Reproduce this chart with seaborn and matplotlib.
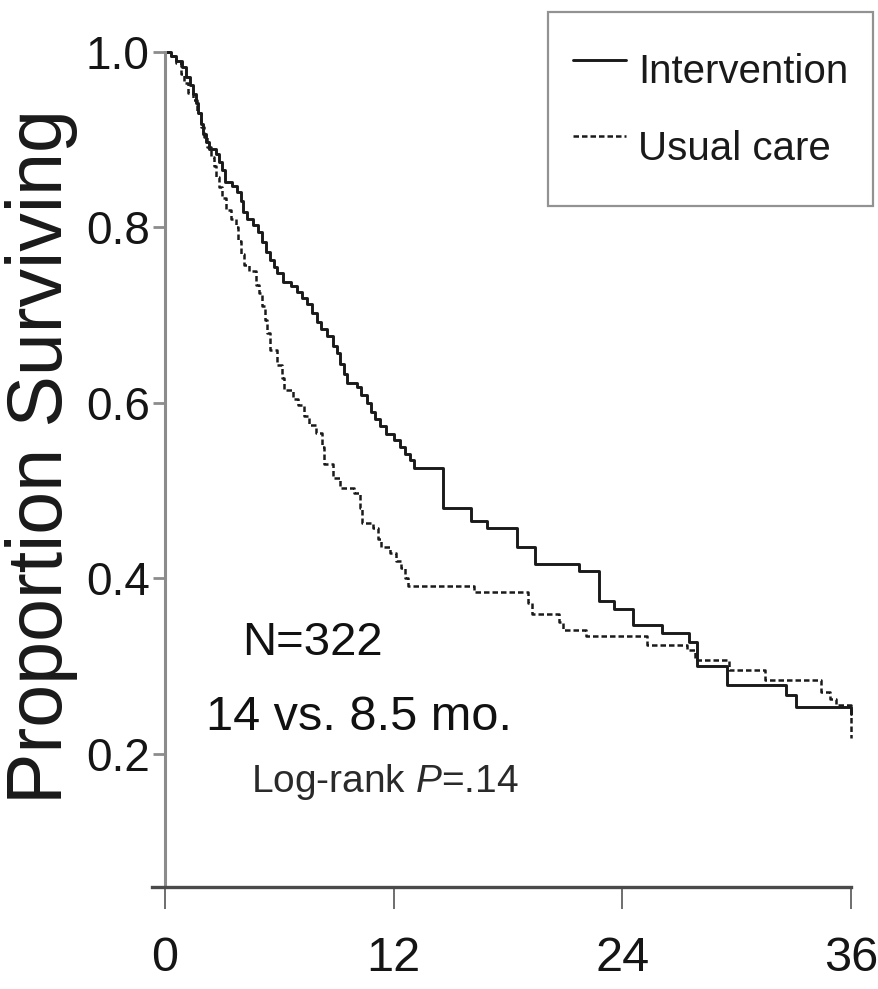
import numpy as np
import pandas as pd
import matplotlib
matplotlib.use("Agg")
import matplotlib.pyplot as plt
import seaborn as sns

# ---------------- data ----------------
series_labels = ["Intervention", "Usual care"]

int_time = [0.0, 0.3, 0.6, 0.9, 1.1, 1.3, 1.45, 1.6, 1.75, 1.9, 2.0, 2.15, 2.3,
            2.65, 2.85, 3.0, 3.15, 3.5, 3.8, 4.0, 4.1, 4.3, 4.6, 4.9, 5.1, 5.3,
            5.5, 5.7, 5.9, 6.2, 6.6, 6.9, 7.2, 7.45, 7.7, 7.95, 8.2, 8.5, 8.8,
            9.0, 9.2, 9.4, 9.55, 10.1, 10.3, 10.6, 10.8, 11.0, 11.3, 11.6, 12.0,
            12.35, 12.6, 12.85, 13.05, 14.6, 16.05, 16.9, 18.45, 19.4, 21.7,
            22.8, 23.55, 24.55, 26.1, 27.5, 27.9, 29.5, 32.6, 33.1, 36.0]
int_surv = [1.000, 0.995, 0.990, 0.983, 0.972, 0.962, 0.952, 0.942, 0.930, 0.918,
            0.907, 0.897, 0.890, 0.884, 0.875, 0.865, 0.852, 0.847, 0.840, 0.830,
            0.818, 0.810, 0.803, 0.795, 0.783, 0.772, 0.763, 0.755, 0.748, 0.738,
            0.733, 0.727, 0.720, 0.713, 0.703, 0.692, 0.684, 0.676, 0.665, 0.657,
            0.645, 0.633, 0.623, 0.618, 0.609, 0.600, 0.590, 0.582, 0.574, 0.565,
            0.558, 0.550, 0.542, 0.535, 0.526, 0.480, 0.466, 0.458, 0.436, 0.417,
            0.409, 0.374, 0.365, 0.347, 0.338, 0.328, 0.300, 0.279, 0.267, 0.254,
            0.246]

uc_time = [0.0, 0.3, 0.6, 0.85, 1.0, 1.2, 1.45, 1.7, 1.9, 2.05, 2.2, 2.4, 2.55,
           2.7, 2.85, 3.0, 3.2, 3.45, 3.7, 3.85, 4.0, 4.15, 4.4, 4.75, 4.95, 5.1,
           5.25, 5.35, 5.5, 5.9, 6.15, 6.25, 6.7, 7.0, 7.3, 7.55, 7.9, 8.25, 8.35,
           8.8, 9.2, 9.9, 10.25, 10.35, 10.9, 11.2, 11.35, 11.8, 12.1, 12.4, 12.6,
           12.75, 16.2, 19.05, 19.25, 20.65, 20.9, 22.1, 25.3, 27.4, 27.8, 29.6,
           31.5, 34.45, 34.9, 35.2, 36.0, 36.0]
uc_surv = [1.000, 0.995, 0.988, 0.975, 0.965, 0.953, 0.945, 0.930, 0.915, 0.903,
           0.892, 0.880, 0.870, 0.858, 0.846, 0.834, 0.820, 0.810, 0.800, 0.785,
           0.770, 0.757, 0.750, 0.735, 0.725, 0.710, 0.695, 0.680, 0.660, 0.643,
           0.628, 0.615, 0.605, 0.598, 0.585, 0.575, 0.566, 0.550, 0.530, 0.515,
           0.503, 0.497, 0.480, 0.463, 0.458, 0.445, 0.436, 0.429, 0.420, 0.412,
           0.400, 0.391, 0.385, 0.372, 0.360, 0.350, 0.341, 0.334, 0.324, 0.318,
           0.307, 0.296, 0.284, 0.271, 0.263, 0.256, 0.256, 0.218]

x_ticks = [0, 12, 24, 36]
x_tick_labels = ["0", "12", "24", "36"]
y_ticks = [0.2, 0.4, 0.6, 0.8, 1.0]
y_tick_labels = ["0.2", "0.4", "0.6", "0.8", "1.0"]
y_label = "Proportion Surviving"
notes = ["N=322", "14 vs. 8.5 mo.", "Log-rank $P$=.14"]

# ---------------- style ----------------
sns.set_theme(style="white")
FONT = ["Liberation Sans", "DejaVu Sans"]
plt.rcParams["font.family"] = FONT
plt.rcParams["mathtext.fontset"] = "custom"
plt.rcParams["mathtext.rm"] = "Liberation Sans"
plt.rcParams["mathtext.it"] = "Liberation Sans:italic"

W, H = 879, 989
fig = plt.figure(figsize=(W / 100, H / 100), dpi=100)
fig.patch.set_facecolor("white")

x0_px, x1_px = 151.7, 851.0
ytop_px, ybot_px = 52.0, 887.0
ax = fig.add_axes([x0_px / W, (H - ybot_px) / H, (x1_px - x0_px) / W,
                   (ybot_px - ytop_px) / H])
ax.set_facecolor("white")

df_int = pd.DataFrame({"time": int_time, "surv": int_surv})
df_uc = pd.DataFrame({"time": uc_time, "surv": uc_surv})

sns.lineplot(data=df_int, x="time", y="surv", ax=ax, color="#1a1a1a",
             linewidth=2.1, drawstyle="steps-post", estimator=None, sort=False,
             label=series_labels[0], clip_on=False)
sns.lineplot(data=df_uc, x="time", y="surv", ax=ax, color="#1a1a1a",
             linewidth=1.8, linestyle=(0, (2.2, 1.2)), drawstyle="steps-post",
             estimator=None, sort=False, label=series_labels[1], clip_on=False)

ax.set_xlim(-0.7, 36)
ax.set_ylim(0.0484, 1.0)
ax.set_xlabel("")
ax.set_ylabel("")

for s in ["top", "right"]:
    ax.spines[s].set_visible(False)
ax.spines["left"].set_position(("data", 0))
ax.spines["left"].set_bounds(0.0484, 1.0)
ax.spines["left"].set_color("#8c8c8c")
ax.spines["left"].set_linewidth(2.2)
ax.spines["bottom"].set_bounds(-0.7, 36)
ax.spines["bottom"].set_color("#4a4a4a")
ax.spines["bottom"].set_linewidth(2.4)

ax.set_xticks(x_ticks)
ax.set_xticklabels(x_tick_labels)
ax.set_yticks(y_ticks)
ax.set_yticklabels(y_tick_labels)
ax.tick_params(axis="x", direction="out", length=16, width=1.2, color="#555555",
               pad=19, labelsize=35, labelcolor="#151515", bottom=True)
ax.tick_params(axis="y", direction="out", length=9, width=2.0, color="#8c8c8c",
               pad=2, labelsize=33, labelcolor="#151515", left=True)

# y label
fig.text(42 / W, 1 - 456 / H, y_label, rotation=90, ha="center", va="center",
         fontsize=55.5, color="#1a1a1a")

# annotations
ax.text(7.71, 0.3265, notes[0], ha="center", va="center", fontsize=34,
        color="#111111")
ax.text(10.18, 0.241, notes[1], ha="center", va="center", fontsize=35,
        color="#111111")
ax.text(11.55, 0.168, notes[2], ha="center", va="center", fontsize=28,
        color="#2a2a2a")

# legend
leg = ax.legend(loc="upper right", bbox_to_anchor=(873 / W, 1 - 11.7 / H),
                bbox_transform=fig.transFigure, borderaxespad=0, fontsize=29,
                frameon=True, fancybox=False, edgecolor="#777777",
                borderpad=0.62, handlelength=1.3, handletextpad=0.3,
                handleheight=2.23, labelspacing=0.2)
leg.get_frame().set_linewidth(1.6)
for t in leg.get_texts():
    t.set_color("#1a1a1a")

fig.savefig("out.png", dpi=100, facecolor="white")
